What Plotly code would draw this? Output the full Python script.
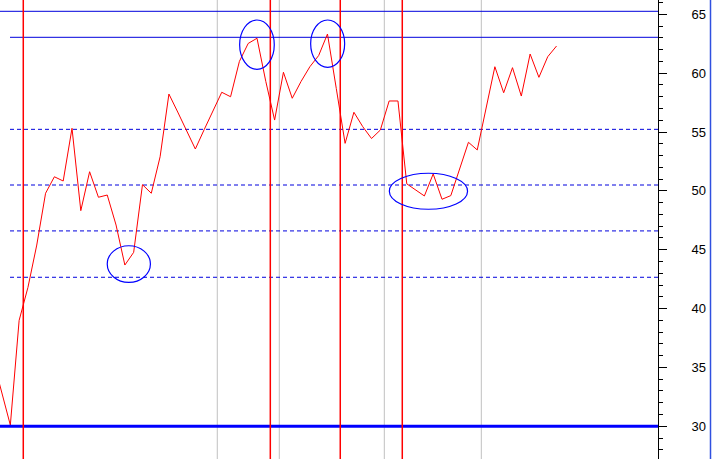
import plotly.graph_objects as go

# ---- data ----
day = list(range(65))
price = [35.8, 32.9, 30.1, 39.0, 41.8, 45.4, 49.8, 51.2, 50.84,
         55.32, 48.32, 51.63, 49.46, 49.65, 47.1, 43.7, 44.78, 50.53, 49.8,
         52.9, 58.23, 56.7, 55.1, 53.56, 55.2, 56.8, 58.38, 58.0, 61.0,
         62.53, 62.97, 59.3, 56.02, 60.08, 57.87, 59.3, 60.55, 61.5, 63.33,
         58.7, 54.04, 56.68, 55.46, 54.45, 55.17, 57.64, 57.64, 50.6, 50.08,
         49.57, 51.44, 49.29, 49.6, 51.8, 54.13, 53.48, 57.15, 60.55, 58.34,
         60.47, 58.06, 61.63, 59.65, 61.4, 62.31]

solid_levels = [65.26, 63.05]
dashed_levels = [55.23, 50.5, 46.6, 42.66]
base_level = 30.0
red_marks = [3.47, 31.51, 39.45, 46.49]
gray_marks = [25.49, 32.53, 44.45, 55.46]
# ellipses: (x0, x1, y0, y1)
ellipses = [(13.0, 17.9, 42.23, 45.34),
            (28.03, 31.96, 60.33, 64.52),
            (36.09, 39.95, 60.5, 64.52),
            (45.02, 53.9, 48.44, 51.5)]

XR = [0.8275, 75.517]
YR = [27.22, 66.22]
x_start_dashed = XR[0] + 10 / 8.81

fig = go.Figure()
fig.add_trace(go.Scatter(x=day, y=price, mode="lines",
                         line=dict(color="#FF0000", width=1), showlegend=False,
                         hoverinfo="skip"))

shapes = []
for g in gray_marks:
    shapes.append(dict(type="line", xref="x", yref="paper", x0=g, x1=g, y0=0, y1=1,
                       line=dict(color="#C0C0C0", width=1), layer="below"))
for i, lv in enumerate(solid_levels):
    shapes.append(dict(type="line", xref="x", yref="y",
                       x0=XR[0] if i == 0 else x_start_dashed, x1=XR[1], y0=lv, y1=lv,
                       line=dict(color="#0000DD", width=1), layer="below"))
for lv in dashed_levels:
    shapes.append(dict(type="line", xref="x", yref="y", x0=x_start_dashed, x1=XR[1],
                       y0=lv, y1=lv, line=dict(color="#0000DD", width=1, dash="4px,3px"),
                       layer="below"))
shapes.append(dict(type="line", xref="x", yref="y", x0=XR[0], x1=XR[1],
                   y0=base_level, y1=base_level, line=dict(color="#0000FF", width=3)))
for r in red_marks:
    shapes.append(dict(type="line", xref="x", yref="paper", x0=r, x1=r, y0=0, y1=1,
                       line=dict(color="#FF0000", width=1.5)))
for (x0, x1, y0, y1) in ellipses:
    shapes.append(dict(type="circle", xref="x", yref="y", x0=x0, x1=x1, y0=y0, y1=y1,
                       line=dict(color="#0000FF", width=1.2)))
# right frame border
shapes.append(dict(type="line", xref="paper", yref="paper", x0=710.5 / 658, x1=710.5 / 658,
                   y0=0, y1=1, line=dict(color="#3050E0", width=1.5)))

fig.update_layout(
    width=712, height=459,
    margin=dict(l=0, r=54, t=0, b=0),
    paper_bgcolor="white", plot_bgcolor="white",
    shapes=shapes,
    xaxis=dict(range=XR, visible=False, showgrid=False, zeroline=False),
    yaxis=dict(range=YR, side="right", showgrid=False, zeroline=False,
               showline=True, linecolor="black", linewidth=1,
               ticks="outside", ticklen=8, tickcolor="black", tickwidth=1,
               dtick=5, tick0=0, ticklabelstandoff=22,
               tickfont=dict(family="Liberation Sans, Arial", size=13, color="black"),
               minor=dict(dtick=1, ticks="outside", ticklen=4, tickcolor="black")),
)

fig.write_html("out.html", config={"displayModeBar": False},
               post_script="document.body.style.margin='0';document.body.style.overflow='hidden';")
